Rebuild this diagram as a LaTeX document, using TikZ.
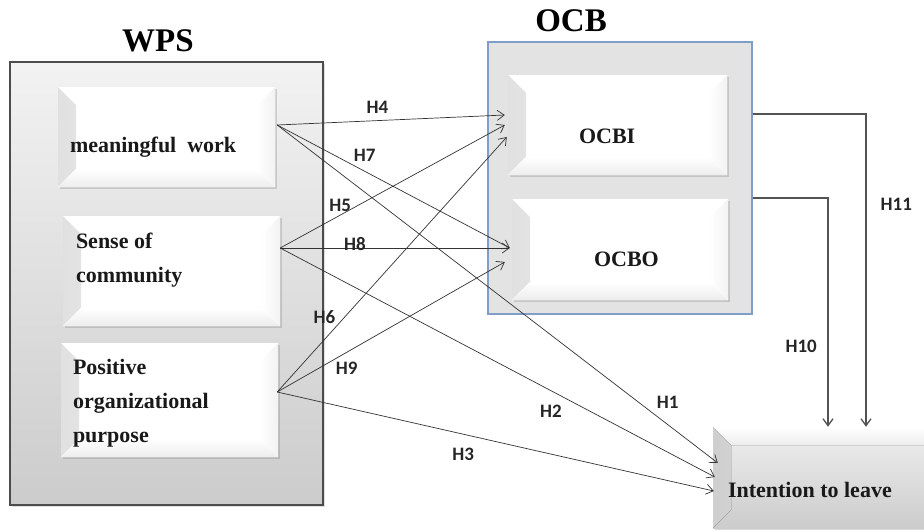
\documentclass[tikz,border=0pt]{standalone}
\usepackage{fontspec}
\setmainfont{Liberation Serif}
\newfontfamily\hypfont{Carlito}
\usepackage{xcolor}
\usetikzlibrary{positioning,arrows.meta,shadows}
\definecolor{ocbblue}{RGB}{128,158,200}
\newdimen\bevelDepth
\bevelDepth=18pt
\def\ppb{path picture bounding box}

\begin{document}
\begin{tikzpicture}[
    x=1pt, y=-1pt,
    >={Straight Barb[length=7pt,width=10pt]},
    group/.style={%
      draw=gray!60!black,
      line width=1.2pt,
      rectangle,
      top color=gray!10,
      bottom color=gray!40,
      drop shadow={shadow xshift=2pt,shadow yshift=-2pt,opacity=0.25},
    },
    ocbgroup/.style={%
      draw=ocbblue,
      line width=1.2pt,
      rectangle,
      fill=gray!22,
    },
    bevel/.style={%
      rectangle,
      fill=white,
      inner sep=0pt,
      drop shadow={shadow xshift=1.5pt,shadow yshift=-2pt,opacity=0.3},
      path picture={
        \fill[left color=gray!24, right color=white]
          (\ppb.south west) -- (\ppb.north west)
          -- ([xshift=\bevelDepth,yshift=-\bevelDepth]\ppb.north west)
          -- ([xshift=\bevelDepth,yshift=\bevelDepth]\ppb.south west) -- cycle;
        \fill[top color=white, bottom color=gray!14]
          (\ppb.south west) -- (\ppb.south east)
          -- ([xshift=-\bevelDepth,yshift=\bevelDepth]\ppb.south east)
          -- ([xshift=\bevelDepth,yshift=\bevelDepth]\ppb.south west) -- cycle;
        \fill[left color=white, right color=gray!10]
          (\ppb.south east) -- (\ppb.north east)
          -- ([xshift=-\bevelDepth,yshift=-\bevelDepth]\ppb.north east)
          -- ([xshift=-\bevelDepth,yshift=\bevelDepth]\ppb.south east) -- cycle;
      },
    },
    greybevel/.style={%
      rectangle,
      inner sep=0pt,
      top color=gray!12,
      bottom color=gray!40,
      drop shadow={shadow xshift=1.5pt,shadow yshift=-2pt,opacity=0.3},
      path picture={
        \fill[left color=gray!38, right color=gray!12]
          (\ppb.south west) -- (\ppb.north west)
          -- ([xshift=\bevelDepth,yshift=-\bevelDepth]\ppb.north west)
          -- ([xshift=\bevelDepth,yshift=\bevelDepth]\ppb.south west) -- cycle;
        \fill[top color=white, bottom color=gray!14]
          (\ppb.north west) -- (\ppb.north east)
          -- ([xshift=-\bevelDepth,yshift=-\bevelDepth]\ppb.north east)
          -- ([xshift=\bevelDepth,yshift=-\bevelDepth]\ppb.north west) -- cycle;
      },
    },
    title/.style={%
      font=\fontsize{33}{36}\selectfont\bfseries,
      inner sep=0pt,
      anchor=base,
    },
    boxtext/.style={%
      font=\fontsize{22}{34}\selectfont\bfseries,
      text=black!90,
      inner sep=0pt,
      align=left,
      anchor=base west,
    },
    hyp/.style={%
      ->,
      draw=black!80,
      line width=0.7pt,
    },
    elbow/.style={%
      ->,
      draw=gray!65!black,
      line width=1.3pt,
    },
    hyplabel/.style={%
      font=\hypfont\fontsize{19}{20}\selectfont\bfseries,
      text=black!85,
      inner sep=1pt,
    },
  ]
    \useasboundingbox (0,0) rectangle (924,531);

    \node [group, minimum width=313pt, minimum height=443pt] (wps) at (166.5,283.5) {};
    \path (wps.north) ++(-8.5,-10) node [title] (wps-title) {WPS};

    \node [bevel, minimum width=217pt, minimum height=100pt] (mw) at (166.5,137) {};
    \node [bevel, minimum width=217pt, minimum height=110pt] (soc) at (171.5,271) {};
    \node [bevel, minimum width=217pt, minimum height=114pt] (pop) at (169.5,400) {};
    % base anchor of a multi-line node sits on its last line
    \path (mw.west) ++(12,15) node [boxtext] (mw-text) {meaningful\ \ work};
    \path (soc.west) ++(13,11) node [boxtext] (soc-text) {Sense of\\community};
    \path (pop.west) ++(12,42) node [boxtext] (pop-text) {Positive\\organizational\\purpose};

    \node [ocbgroup, minimum width=264pt, minimum height=272pt] (ocb) at (620,178) {};
    \path (ocb.north) ++(-49,-10) node [title] (ocb-title) {OCB};
    \node [bevel, minimum width=219pt, minimum height=100pt] (ocbi) at (617.5,125) {};
    \node [bevel, minimum width=216pt, minimum height=101pt] (ocbo) at (620,249.5) {};
    \path (ocbi.west) ++(71,18) node [boxtext] (ocbi-text) {OCBI};
    \path (ocbo.west) ++(82,16.5) node [boxtext] (ocbo-text) {OCBO};

    \node [greybevel, minimum width=230pt, minimum height=101pt] (itl) at (828,477.5) {};
    \path (itl.west) ++(15,19.5) node [boxtext] (itl-text) {Intention\ to leave};

    % ports
    \coordinate (mw-out) at ([xshift=2pt,yshift=12pt]mw.east);
    \coordinate (soc-out) at ([yshift=23pt]soc.east);
    \coordinate (pop-out) at ([xshift=-1pt,yshift=8pt]pop.east);
    \coordinate (ocbi-a) at ([xshift=-3pt,yshift=10pt]ocbi.west);
    \coordinate (ocbi-b) at ([xshift=-3pt]ocbi.west);
    \coordinate (ocbi-c) at ([xshift=-1pt,yshift=-12pt]ocbi.west);
    \coordinate (ocbo-a) at ([xshift=-2pt,yshift=1.5pt]ocbo.west);
    \coordinate (ocbo-b) at ([xshift=-7pt,yshift=-12.5pt]ocbo.west);
    \coordinate (itl-a) at ([xshift=5pt,yshift=14.5pt]itl.west);
    \coordinate (itl-b) at ([xshift=2pt,yshift=0.5pt]itl.west);
    \coordinate (itl-c) at ([xshift=1pt,yshift=-13.5pt]itl.west);
    \coordinate (itl-top-a) at (itl.north);
    \coordinate (itl-top-b) at ([xshift=38pt]itl.north);
    \coordinate (ocbi-out) at ([yshift=64pt]ocb.east);
    \coordinate (ocbo-out) at ([yshift=-20pt]ocb.east);

    \draw [hyp] (mw-out) -- (ocbi-a) node [hyplabel,above=6pt,pos=0.44] {H4};
    \draw [hyp] (mw-out) -- (ocbo-a) node [hyplabel,above=8.5pt,pos=0.376] {H7};
    \draw [hyp] (mw-out) -- (itl-a) node [hyplabel,right=17pt,pos=0.82] {H1};
    \draw [hyp] (soc-out) -- (ocbi-b) node [hyplabel,above=2.5pt,pos=0.267] {H5};
    \draw [hyp] (soc-out) -- (ocbo-a) node [hyplabel,above=-3.5pt,pos=0.326] {H8};
    \draw [hyp] (soc-out) -- (itl-b) node [hyplabel,below=13pt,pos=0.623] {H2};
    \draw [hyp] (pop-out) -- (ocbi-c) node [hyplabel,left=8pt,pos=0.294] {H6};
    \draw [hyp] (pop-out) -- (ocbo-b) node [hyplabel,below=8pt,pos=0.305] {H9};
    \draw [hyp] (pop-out) -- (itl-c) node [hyplabel,below=13pt,pos=0.426] {H3};

    \draw [elbow] (ocbo-out) -| (itl-top-a) node [hyplabel,left=9.5pt,pos=0.825] {H10};
    \draw [elbow] (ocbi-out) -| (itl-top-b) node [hyplabel,right=13pt,pos=0.645] {H11};
\end{tikzpicture}
\end{document}
